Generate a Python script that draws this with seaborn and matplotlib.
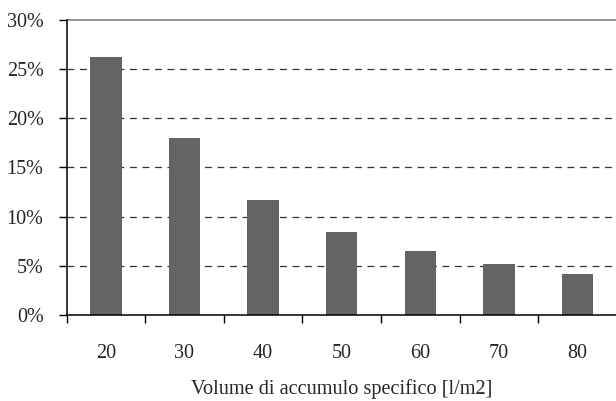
import matplotlib
matplotlib.use("Agg")
import matplotlib.pyplot as plt
import matplotlib.ticker as mticker
import seaborn as sns
import pandas as pd

categories = ["20", "30", "40", "50", "60", "70", "80"]
values = [26.2, 18.0, 11.7, 8.4, 6.5, 5.2, 4.2]
y_ticks = [0, 5, 10, 15, 20, 25, 30]
x_label = "Volume di accumulo specifico [l/m2]"

df = pd.DataFrame({"cat": categories, "val": values})

sns.set_style("white")
plt.rcParams["font.family"] = ["Liberation Serif", "DejaVu Serif"]

fig = plt.figure(figsize=(6.16, 4.01), dpi=100)
ax = fig.add_axes([66.5 / 616, 1 - 315.3 / 401, (617 - 66.5) / 616, (315.3 - 19.5) / 401])

sns.barplot(data=df, x="cat", y="val", color="#646464", width=0.4,
            saturation=1, ax=ax, zorder=3, linewidth=0, edgecolor="none")

ax.set_xlim(-0.5, len(categories) - 0.5)
ax.set_ylim(0, 30)

# gridlines
for yv in y_ticks[1:-1]:
    ax.axhline(yv, color="#333333", lw=0.9, ls=(0, (5.5, 4.5)), zorder=1)
ax.axhline(30, color="#8a8a8a", lw=1.3, zorder=1, clip_on=False)

for s in ["top", "right"]:
    ax.spines[s].set_visible(False)
for s in ["left", "bottom"]:
    ax.spines[s].set_color("black")
    ax.spines[s].set_linewidth(1.1)
    ax.spines[s].set_zorder(4)

ax.set_yticks(y_ticks)
ax.yaxis.set_major_formatter(mticker.FuncFormatter(lambda v, p: f"{int(v)}%"))
ax.tick_params(axis="y", direction="out", length=5.5, width=1, color="black",
               pad=11, labelsize=14.5, left=True)

# major x ticks at boundaries (no label), minor at centers (labels)
ax.set_xticks([i - 0.5 for i in range(len(categories) + 1)])
ax.set_xticklabels([])
ax.set_xticks(list(range(len(categories))), minor=True)
ax.set_xticklabels(categories, minor=True)
ax.tick_params(axis="x", which="major", direction="out", length=5.5, width=1,
               color="black", bottom=True)
ax.tick_params(axis="x", which="minor", length=0, pad=21, labelsize=14.5)

ax.set_xlabel(x_label, fontsize=14.6, labelpad=11)
ax.set_ylabel("")

fig.savefig("out.png", dpi=100)
